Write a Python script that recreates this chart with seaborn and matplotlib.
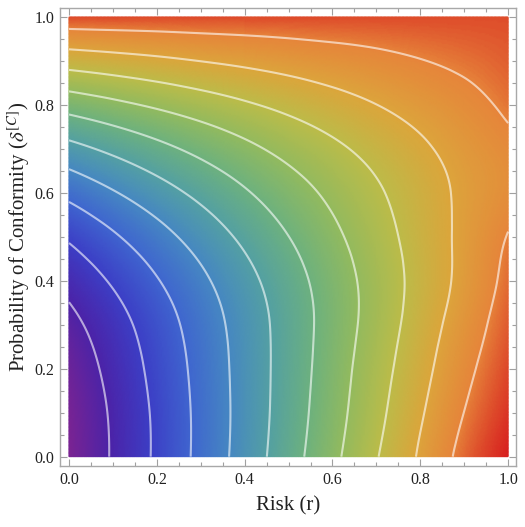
import numpy as np
import matplotlib
matplotlib.use("Agg")
import matplotlib.pyplot as plt
import matplotlib.tri as mtri
import seaborn as sns

# Grid of the surface: risk along x, probability of conformity along y
risk = [0.0, 0.1, 0.2, 0.3, 0.4, 0.5, 0.6, 0.7, 0.8, 0.9, 1.0]
conformity = [0.0, 0.1, 0.2, 0.3, 0.4, 0.5, 0.6, 0.7, 0.8, 0.9, 1.0]

# Surface values (in contour-step units), one row per conformity value
z_c00 = [0.00, 1.09, 2.15, 3.26, 4.41, 5.58, 6.76, 7.94, 9.12, 10.27, 11.00]
z_c01 = [0.08, 1.13, 2.17, 3.25, 4.36, 5.48, 6.61, 7.74, 8.89, 10.01, 10.80]
z_c02 = [0.32, 1.30, 2.29, 3.31, 4.37, 5.43, 6.51, 7.59, 8.67, 9.75, 10.60]
z_c03 = [0.71, 1.59, 2.50, 3.45, 4.43, 5.42, 6.42, 7.43, 8.47, 9.50, 10.42]
z_c04 = [1.32, 2.11, 2.94, 3.80, 4.69, 5.58, 6.49, 7.40, 8.34, 9.28, 10.24]
z_c05 = [2.13, 2.87, 3.63, 4.41, 5.20, 5.99, 6.79, 7.59, 8.41, 9.23, 10.04]
z_c06 = [3.26, 3.92, 4.58, 5.24, 5.90, 6.56, 7.21, 7.87, 8.53, 9.19, 9.72]
z_c07 = [4.69, 5.21, 5.73, 6.25, 6.77, 7.29, 7.80, 8.32, 8.84, 9.36, 9.80]
z_c08 = [6.40, 6.77, 7.14, 7.51, 7.88, 8.25, 8.62, 8.99, 9.36, 9.73, 10.14]
z_c09 = [8.43, 8.62, 8.81, 9.01, 9.20, 9.39, 9.58, 9.77, 9.97, 10.16, 10.37]
z_c10 = [10.59, 10.59, 10.58, 10.58, 10.57, 10.57, 10.57, 10.56, 10.56, 10.55, 10.55]

contour_levels = [1, 2, 3, 4, 5, 6, 7, 8, 9, 10]
z_min, z_max = 0.0, 11.0

rainbow_colors = ["#7a2393", "#4c23a8", "#3c3fc6", "#3f66cf", "#4688c2",
                  "#54a0a3", "#6db17f", "#93ba5e", "#bcbb49", "#dca53b",
                  "#e6853a", "#d82220"]

tick_values = [0.0, 0.2, 0.4, 0.6, 0.8, 1.0]
tick_labels = ["0.0", "0.2", "0.4", "0.6", "0.8", "1.0"]

sns.set_theme(style="ticks")
plt.rcParams["font.family"] = ["Liberation Serif", "DejaVu Serif"]
plt.rcParams["mathtext.fontset"] = "stix"

rows = [z_c00, z_c01, z_c02, z_c03, z_c04, z_c05,
        z_c06, z_c07, z_c08, z_c09, z_c10]
R, C = np.meshgrid(risk, conformity)
Z = np.array(rows)

triang = mtri.Triangulation(R.ravel(), C.ravel())
interp = mtri.CubicTriInterpolator(triang, Z.ravel(), kind="min_E")
refiner = mtri.UniformTriRefiner(triang)
tri_fine, z_fine = refiner.refine_field(Z.ravel(), triinterpolator=interp, subdiv=5)

cmap = sns.blend_palette(rainbow_colors, as_cmap=True)

fig = plt.figure(figsize=(5.25, 5.27), dpi=100)
ax = fig.add_axes([60 / 525, 1 - 466 / 527, 456 / 525, 458 / 527])
ax.set_facecolor("white")

ax.tripcolor(tri_fine, z_fine, cmap=cmap, vmin=z_min, vmax=z_max,
             shading="gouraud", rasterized=True)
ax.tricontour(tri_fine, z_fine, levels=contour_levels, colors="white",
              linewidths=1.5, alpha=0.6)

ax.set_xlim(-0.0205, 1.018)
ax.set_ylim(-0.0212, 1.0205)

ax.set_xticks(tick_values)
ax.set_xticklabels(tick_labels)
ax.set_yticks(tick_values)
ax.set_yticklabels(tick_labels)
ax.set_xticks(np.arange(0, 1.001, 0.05), minor=True)
ax.set_yticks(np.arange(0, 1.001, 0.05), minor=True)
ax.tick_params(which="both", direction="in", top=True, right=True,
               color="#a0a0a0", width=0.8, labelsize=11.5, labelcolor="#222222")
ax.tick_params(which="major", length=5, pad=4)
ax.tick_params(which="minor", length=2.7)

for side in ax.spines.values():
    side.set_color("#a8a8a8")
    side.set_linewidth(1.0)

ax.set_xlabel("Risk (r)", fontsize=15, color="#222222", labelpad=6)
ax.set_ylabel(r"Probability of Conformity ($\delta^{[C]}$)", fontsize=15,
              color="#222222", labelpad=2)

fig.savefig("out.png", dpi=100, facecolor="white")
